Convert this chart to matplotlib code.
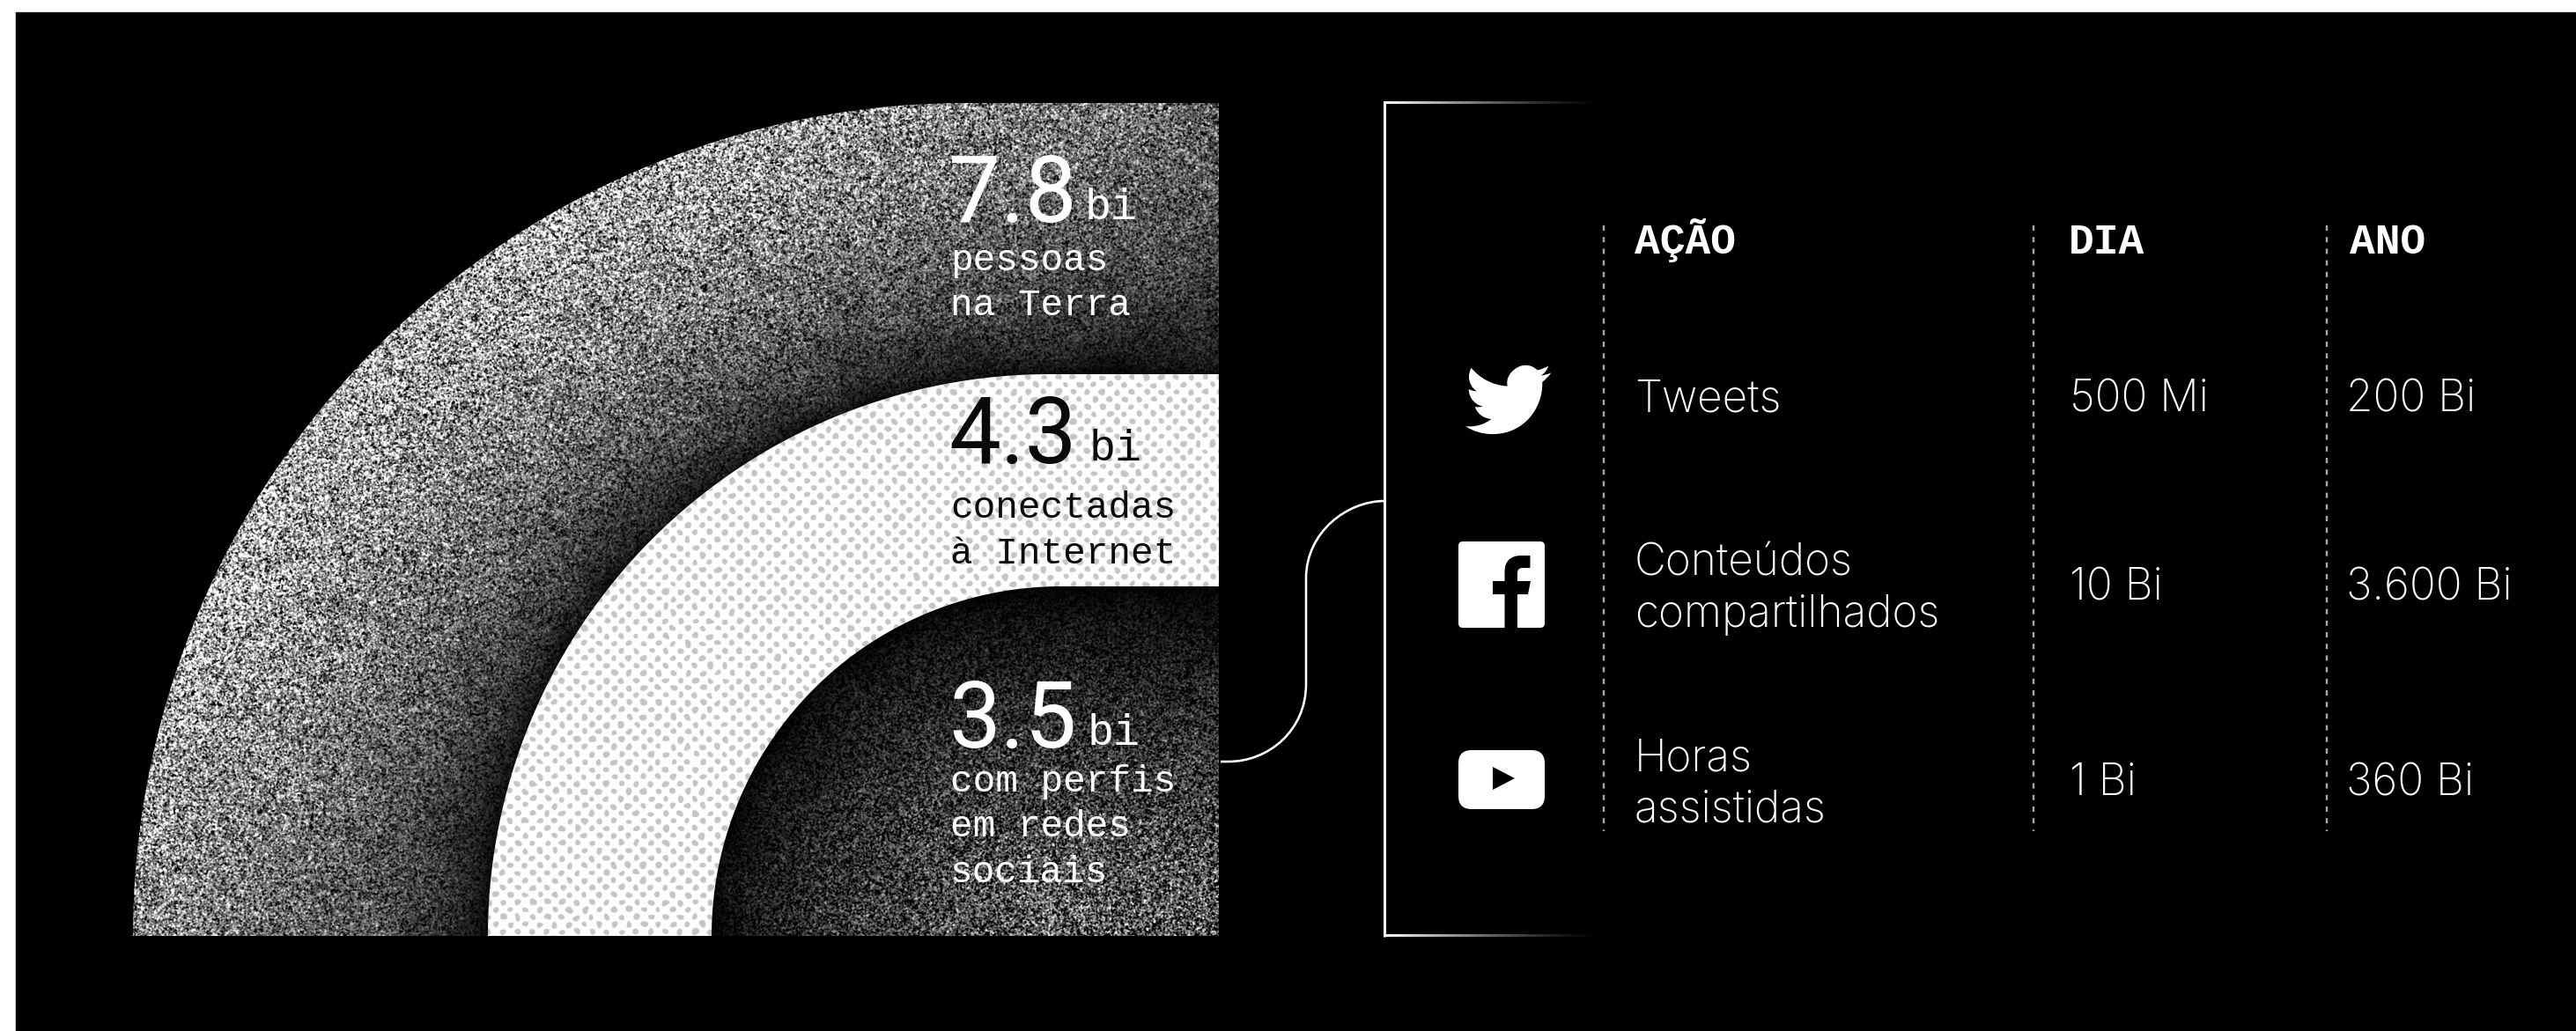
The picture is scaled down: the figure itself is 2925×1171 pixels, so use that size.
"""
redes_sociais.py
Pessoas na Terra, conectadas e em redes sociais + tabela de volumes por plataforma
"""
import matplotlib
matplotlib.use('Agg')
import matplotlib.pyplot as plt
from matplotlib.patches import PathPatch, Rectangle, FancyBboxPatch, Polygon
from matplotlib.path import Path
import numpy as np

# dados
band_numbers = ['7.8', '4.3', '3.5']
band_unit = 'bi'
band_captions = [['pessoas', 'na Terra'],
                 ['conectadas', 'à Internet'],
                 ['com perfis', 'em redes', 'sociais']]
band_radius = [946, 638, 397]
band_center_x = [1097, 1192, 1205]

col_headers = ['AÇÃO', 'DIA', 'ANO']
actions = [['Tweets'], ['Conteúdos', 'compartilhados'], ['Horas', 'assistidas']]
per_day = ['500 Mi', '10 Bi', '1 Bi']
per_year = ['200 Bi', '3.600 Bi', '360 Bi']

W, H = 2925, 1171
BASE_Y = 1063
RIGHT_X = 1384
MONO = 'Liberation Mono'
BODY = 'Inter'
NUM = 'Roboto'


def px(v):
    return v * 0.72


def blur(a, sigma):
    fy = np.fft.fftfreq(a.shape[0])[:, None]
    fx = np.fft.rfftfreq(a.shape[1])[None, :]
    k = np.exp(-2 * (np.pi * sigma) ** 2 * (fx ** 2 + fy ** 2))
    return np.fft.irfft2(np.fft.rfft2(a) * k, s=a.shape)


def band_path(cx, r):
    ang = np.linspace(np.pi, np.pi / 2, 200)
    xs = cx + r * np.cos(ang)
    ys = BASE_Y - r * np.sin(ang)
    verts = np.column_stack([np.r_[xs, RIGHT_X, RIGHT_X], np.r_[ys, BASE_Y - r, BASE_Y]])
    return Path(np.vstack([verts, verts[0]]), closed=True)


def norm_r(cx, r):
    return np.hypot(np.maximum(cx - xx, 0), BASE_Y - yy) / r


def grain(bright, seed, amount=0.45):
    # granulado multiplicativo: some no preto, vira cinza manchado nos claros
    g = np.random.default_rng(seed)
    z = blur(g.standard_normal((H, W)), 0.75)
    z /= z.std()
    return np.clip(bright * (1 + amount * z), 0, 1)


yy, xx = np.mgrid[0:H, 0:W] + 0.5

fig = plt.figure(figsize=(W / 100, H / 100), dpi=100, facecolor='white')
ax = fig.add_axes([0, 0, 1, 1])
ax.axis('off')
ax.add_patch(Rectangle((18, 14), W, H, color='black', zorder=0))

# faixa externa: granulado mais claro junto à borda
ro = norm_r(band_center_x[0], band_radius[0])
ri = norm_r(band_center_x[1], band_radius[1])
t = np.clip((ri - 1) / np.maximum((ri - 1) + (1 - ro), 1e-3), 0, 1)
along = 1 - 0.42 * np.clip((xx - 800) / 580, 0, 1) - 0.22 * np.clip((yy - 750) / 310, 0, 1)
mott = blur(np.random.default_rng(3).standard_normal((H, W)), 14)
mott /= mott.std()
outer_b = (0.05 + 0.62 * t ** 0.7) * along + 0.012 * mott

# faixa central: branco com retícula cinza
jit = np.random.default_rng(5)
s = 8.4
jx = blur(jit.standard_normal((H, W)), 3)
jy = blur(jit.standard_normal((H, W)), 3)
jx, jy = jx / jx.std(), jy / jy.std()
a = (xx + yy + jx) / (2 * s)
b = (xx - yy + jy) / (2 * s)
da, db = a - np.round(a), b - np.round(b)
d = np.hypot(s * (da + db), s * (da - db))
dots = np.clip((3.4 - d) / 1.3 + 0.5, 0, 1)
dot_img = 0.99 - 0.22 * dots

# região interna: preta junto ao arco, clareando para dentro
ri2 = norm_r(band_center_x[2], band_radius[2])
inner_b = 0.01 + 0.34 * np.clip(1 - ri2, 0, 1) ** 0.6 + 0.008 * mott
inner_b = np.maximum(inner_b, 0) * (0.72 + 0.28 * np.clip((yy - 666) / 300, 0, 1))

layers = [grain(outer_b, 1), dot_img, grain(inner_b, 2, amount=0.7)]
for i, img in enumerate(layers):
    patch = PathPatch(band_path(band_center_x[i], band_radius[i]), fc='none', ec='none')
    ax.add_patch(patch)
    im = ax.imshow(img, cmap='gray', vmin=0, vmax=1, extent=(0, W, H, 0),
                   interpolation='nearest', aspect='auto', zorder=1 + i)
    im.set_clip_path(patch)

# números e legendas das faixas
num_base = [252, 526, 849]
unit_x = [1232, 1237, 1235]
cap_base = [[307, 358], [588, 640], [899, 950, 1002]]
text_col = ['white', '#0a0a0a', 'white']
for i in range(3):
    ax.text(1077, num_base[i], band_numbers[i], family=NUM, fontsize=px(105),
            color=text_col[i], va='baseline', zorder=6)
    ax.text(unit_x[i], num_base[i] - 3, band_unit, family=MONO, fontsize=px(50),
            color=text_col[i], va='baseline', zorder=6)
    for line, y in zip(band_captions[i], cap_base[i]):
        ax.text(1079, y, line, family=MONO, fontsize=px(42.7),
                color=text_col[i], va='baseline', zorder=6)

# moldura da tabela
grad = np.linspace(1, 0, 256)[None, :] ** 1.4
for y in [117, 1063]:
    ax.imshow(grad, cmap='gray', vmin=0, vmax=1, extent=(1571, 1822, y + 1.5, y - 1.5),
              aspect='auto', zorder=3)
ax.plot([1572, 1572], [116, 1064], color='white', lw=px(3), solid_capstyle='butt', zorder=4)

# conector curvo
conn = Path([(1386, 865), (1395, 865), (1395, 865), (1440, 865), (1483, 830), (1483, 777),
             (1483, 657), (1483, 604), (1530, 569), (1572, 569)],
            [Path.MOVETO, Path.LINETO, Path.LINETO, Path.CURVE4, Path.CURVE4, Path.CURVE4,
             Path.LINETO, Path.CURVE4, Path.CURVE4, Path.CURVE4])
ax.add_patch(PathPatch(conn, fc='none', ec='white', lw=px(2.6), zorder=4))

# divisórias tracejadas
for x in [1821, 2309, 2642]:
    ax.plot([x, x], [256, 944], color='#a8a8a8', lw=px(2.4),
            dashes=(2.5, 3), zorder=4)

# cabeçalho
for x, label in zip([1856, 2349, 2668], col_headers):
    ax.text(x, 288, label, family=MONO, weight='bold', fontsize=px(48),
            color='white', va='baseline', zorder=6)

# linhas da tabela
BODY_PX = 49.5
action_base = [[468], [653, 712], [876, 934]]
value_base = [468, 681, 903]
for i in range(3):
    for line, y in zip(actions[i], action_base[i]):
        ax.text(1856, y, line, family=BODY, weight='light', fontsize=px(BODY_PX),
                color='white', va='baseline', zorder=6)
    ax.text(2350, value_base[i], per_day[i], family=BODY, weight='light', fontsize=px(BODY_PX),
            color='white', va='baseline', zorder=6)
    ax.text(2664, value_base[i], per_year[i], family=BODY, weight='light', fontsize=px(BODY_PX),
            color='white', va='baseline', zorder=6)

# ícones
bird = [(Path.MOVETO, (23.95, 4.57)),
        (Path.CURVE3, (22.6, 5.15)), (Path.CURVE3, (21.13, 5.35)),
        (Path.CURVE3, (22.65, 4.4)), (Path.CURVE3, (23.29, 2.62)),
        (Path.CURVE3, (21.8, 3.5)), (Path.CURVE3, (20.16, 3.81)),
        (Path.CURVE4, (18.7, 2.3)), (Path.CURVE4, (16.3, 1.9)), (Path.CURVE4, (14.3, 3.2)),
        (Path.CURVE4, (12.4, 4.4)), (Path.CURVE4, (11.3, 6.3)), (Path.CURVE4, (11.78, 8.29)),
        (Path.CURVE4, (7.69, 8.09)), (Path.CURVE4, (4.07, 6.13)), (Path.CURVE4, (1.64, 3.16)),
        (Path.CURVE3, (0.97, 4.3)), (Path.CURVE3, (0.97, 5.64)),
        (Path.CURVE4, (0.97, 7.35)), (Path.CURVE4, (1.84, 8.85)), (Path.CURVE4, (3.16, 9.73)),
        (Path.CURVE3, (1.9, 9.7)), (Path.CURVE3, (0.93, 9.12)),
        (Path.LINETO, (0.93, 9.18)),
        (Path.CURVE4, (0.93, 11.5)), (Path.CURVE4, (2.6, 13.5)), (Path.CURVE4, (4.88, 14.0)),
        (Path.CURVE3, (3.8, 14.3)), (Path.CURVE3, (2.66, 14.09)),
        (Path.CURVE4, (3.3, 16.0)), (Path.CURVE4, (5.1, 17.4)), (Path.CURVE4, (7.27, 17.5)),
        (Path.CURVE4, (5.5, 18.9)), (Path.CURVE4, (3.4, 19.6)), (Path.CURVE4, (1.17, 19.6)),
        (Path.CURVE4, (0.78, 19.6)), (Path.CURVE4, (0.39, 19.58)), (Path.CURVE4, (0.0, 19.54)),
        (Path.CURVE4, (2.2, 20.95)), (Path.CURVE4, (4.8, 21.75)), (Path.CURVE4, (7.56, 21.75)),
        (Path.CURVE4, (16.6, 21.75)), (Path.CURVE4, (21.55, 14.25)), (Path.CURVE4, (21.55, 7.76)),
        (Path.CURVE4, (21.55, 7.55)), (Path.CURVE4, (21.55, 7.35)), (Path.CURVE4, (21.54, 7.13)),
        (Path.CURVE3, (23.0, 6.05)), (Path.CURVE3, (24.0, 4.59)),
        (Path.LINETO, (23.95, 4.57))]
bird_xy = np.array([p for _, p in bird]) * 4.05 + np.array([1664, 405])
ax.add_patch(PathPatch(Path(bird_xy, [c for c, _ in bird]), fc='white', ec='none', zorder=5))

ax.add_patch(FancyBboxPatch((1661, 620), 88, 88, boxstyle='round,pad=5,rounding_size=5',
                            fc='white', ec='none', zorder=5))
f_letter = Path([(1708.5, 714), (1708.5, 675), (1695, 675), (1695, 660), (1708.5, 660),
                 (1708.5, 649), (1708.5, 637), (1716, 631), (1727, 631), (1737.5, 631),
                 (1737.5, 645), (1729, 645), (1725, 645), (1723, 647), (1723, 651), (1723, 660),
                 (1738, 660), (1735, 675), (1723, 675), (1723, 714), (1708.5, 714)],
                [Path.MOVETO, Path.LINETO, Path.LINETO, Path.LINETO, Path.LINETO,
                 Path.LINETO, Path.CURVE4, Path.CURVE4, Path.CURVE4, Path.LINETO,
                 Path.LINETO, Path.LINETO, Path.CURVE4, Path.CURVE4, Path.CURVE4, Path.LINETO,
                 Path.LINETO, Path.LINETO, Path.LINETO, Path.LINETO, Path.CLOSEPOLY])
ax.add_patch(PathPatch(f_letter, fc='black', ec='none', zorder=6))

ax.add_patch(FancyBboxPatch((1671, 867), 68, 37, boxstyle='round,pad=15,rounding_size=15',
                            fc='white', ec='none', zorder=5))
ax.add_patch(Polygon([(1695, 871), (1720, 884), (1695, 897)], fc='black', ec='none', zorder=6))

ax.set_xlim(0, W)
ax.set_ylim(H, 0)
fig.savefig('out.png', dpi=100, facecolor='white')
plt.close(fig)
